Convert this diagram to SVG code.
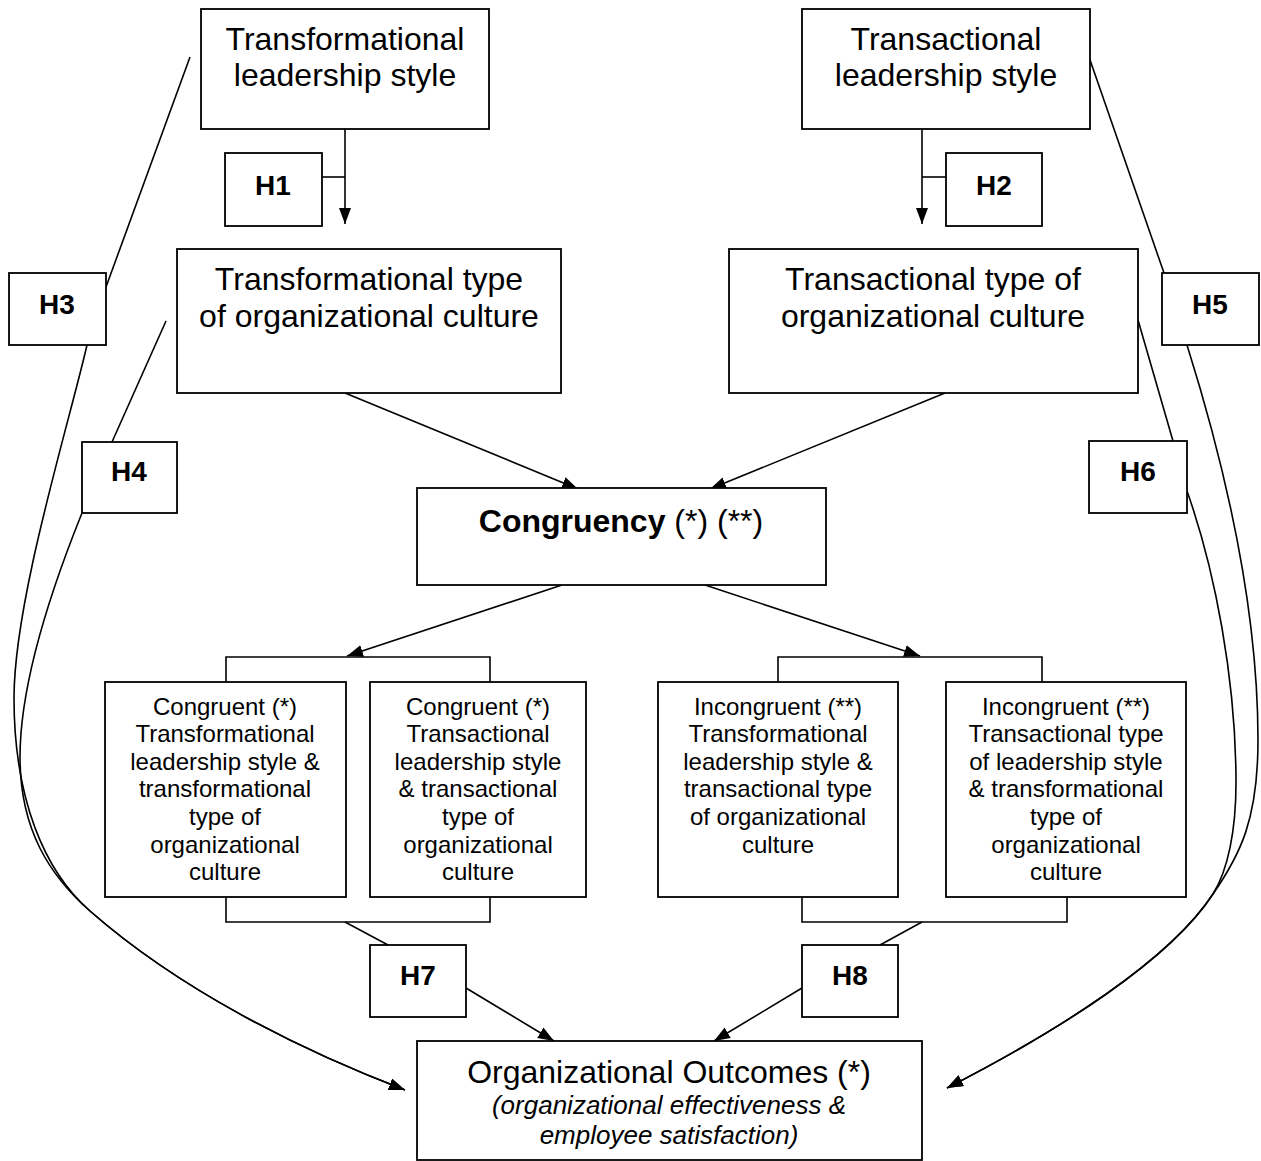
<svg xmlns="http://www.w3.org/2000/svg" width="1261" height="1161" viewBox="0 0 1261 1161">
<style>
.box{fill:#fff;stroke:#000;stroke-width:1.8}
.ln{fill:none;stroke:#000;stroke-width:1.6}
.big{font-family:"Liberation Sans",Arial,sans-serif;font-size:32px;text-anchor:middle;fill:#000}
.sm{font-family:"Liberation Sans",Arial,sans-serif;font-size:24px;text-anchor:middle;fill:#000}
.h{font-family:"Liberation Sans",Arial,sans-serif;font-size:28px;font-weight:bold;text-anchor:middle;fill:#000}
.it{font-family:"Liberation Sans",Arial,sans-serif;font-size:26px;font-style:italic;text-anchor:middle;fill:#000}
</style>
<defs>
<marker id="arr" markerUnits="userSpaceOnUse" markerWidth="17" markerHeight="13" refX="16" refY="6.5" orient="auto">
<path d="M0,0.5 L16,6.5 L0,12.5 z" fill="#000"/>
</marker>
</defs>
<rect width="1261" height="1161" fill="#fff"/>
<g id="connectors">
<line class="ln" x1="345" y1="129" x2="345" y2="224" marker-end="url(#arr)"/>
<line class="ln" x1="322" y1="177" x2="345" y2="177"/>
<line class="ln" x1="922" y1="129" x2="922" y2="224" marker-end="url(#arr)"/>
<line class="ln" x1="922" y1="177" x2="946" y2="177"/>
<line class="ln" x1="345" y1="393" x2="578" y2="489" marker-end="url(#arr)"/>
<line class="ln" x1="945" y1="393" x2="710" y2="489" marker-end="url(#arr)"/>
<line class="ln" x1="562" y1="585" x2="347" y2="656" marker-end="url(#arr)"/>
<line class="ln" x1="705" y1="585" x2="920" y2="656" marker-end="url(#arr)"/>
<polyline class="ln" points="226,682 226,657 490,657 490,682"/>
<polyline class="ln" points="778,682 778,657 1042,657 1042,682"/>
<polyline class="ln" points="226,897 226,922 490,922 490,897"/>
<polyline class="ln" points="802,897 802,922 1067,922 1067,897"/>
<line class="ln" x1="345" y1="922" x2="388" y2="945"/>
<line class="ln" x1="922" y1="922" x2="880" y2="945"/>
<line class="ln" x1="466" y1="988" x2="554" y2="1041" marker-end="url(#arr)"/>
<line class="ln" x1="802" y1="988" x2="714" y2="1041" marker-end="url(#arr)"/>
<line class="ln" x1="106" y1="287" x2="190" y2="57"/>
<path class="ln" d="M87,345 C70,420 14,600 14,698 C14,800 45,872 90,911 C180,990 300,1050 405,1090" marker-end="url(#arr)"/>
<line class="ln" x1="112" y1="442" x2="166" y2="321"/>
<path class="ln" d="M82,513 C55,580 20,680 20,757 C20,830 50,876 90,911 C180,990 300,1050 405,1090" marker-end="url(#arr)"/>
<line class="ln" x1="1089" y1="57" x2="1164" y2="273"/>
<path class="ln" d="M1187,345 C1220,450 1258,600 1258,740 C1258,820 1240,855 1213,894 C1170,960 1060,1030 947,1088" marker-end="url(#arr)"/>
<line class="ln" x1="1138" y1="320" x2="1173" y2="441"/>
<path class="ln" d="M1187,491 C1215,570 1236,680 1236,783 C1236,830 1228,870 1213,894 C1170,960 1060,1030 947,1088" marker-end="url(#arr)"/>
</g>
<g id="n-tl">
<rect class="box" x="201" y="9" width="288" height="120"/>
<text class="big" x="345" y="50">Transformational</text>
<text class="big" x="345" y="86">leadership style</text>
</g>
<g id="n-xl">
<rect class="box" x="802" y="9" width="288" height="120"/>
<text class="big" x="946" y="50">Transactional</text>
<text class="big" x="946" y="86">leadership style</text>
</g>
<g id="n-h1"><rect class="box" x="225" y="153" width="97" height="73"/><text class="h" x="273" y="195">H1</text></g>
<g id="n-h2"><rect class="box" x="946" y="153" width="96" height="73"/><text class="h" x="994" y="195">H2</text></g>
<g id="n-tc">
<rect class="box" x="177" y="249" width="384" height="144"/>
<text class="big" x="369" y="290">Transformational type</text>
<text class="big" x="369" y="327">of organizational culture</text>
</g>
<g id="n-xc">
<rect class="box" x="729" y="249" width="409" height="144"/>
<text class="big" x="933" y="290">Transactional type of</text>
<text class="big" x="933" y="327">organizational culture</text>
</g>
<g id="n-h3"><rect class="box" x="9" y="273" width="97" height="72"/><text class="h" x="57" y="314">H3</text></g>
<g id="n-h4"><rect class="box" x="82" y="442" width="95" height="71"/><text class="h" x="129" y="481">H4</text></g>
<g id="n-h5"><rect class="box" x="1162" y="273" width="97" height="72"/><text class="h" x="1210" y="314">H5</text></g>
<g id="n-h6"><rect class="box" x="1089" y="441" width="98" height="72"/><text class="h" x="1138" y="481">H6</text></g>
<g id="n-cong">
<rect class="box" x="417" y="488" width="409" height="97"/>
<text class="big" x="621" y="532"><tspan font-weight="bold">Congruency</tspan> (*) (**)</text>
</g>
<g id="n-c1">
<rect class="box" x="105" y="682" width="241" height="215"/>
<text class="sm" x="225" y="715">Congruent (*)</text>
<text class="sm" x="225" y="742">Transformational</text>
<text class="sm" x="225" y="770">leadership style &amp;</text>
<text class="sm" x="225" y="797">transformational</text>
<text class="sm" x="225" y="825">type of</text>
<text class="sm" x="225" y="853">organizational</text>
<text class="sm" x="225" y="880">culture</text>
</g>
<g id="n-c2">
<rect class="box" x="370" y="682" width="216" height="215"/>
<text class="sm" x="478" y="715">Congruent (*)</text>
<text class="sm" x="478" y="742">Transactional</text>
<text class="sm" x="478" y="770">leadership style</text>
<text class="sm" x="478" y="797">&amp; transactional</text>
<text class="sm" x="478" y="825">type of</text>
<text class="sm" x="478" y="853">organizational</text>
<text class="sm" x="478" y="880">culture</text>
</g>
<g id="n-i1">
<rect class="box" x="658" y="682" width="240" height="215"/>
<text class="sm" x="778" y="715">Incongruent (**)</text>
<text class="sm" x="778" y="742">Transformational</text>
<text class="sm" x="778" y="770">leadership style &amp;</text>
<text class="sm" x="778" y="797">transactional type</text>
<text class="sm" x="778" y="825">of organizational</text>
<text class="sm" x="778" y="853">culture</text>
</g>
<g id="n-i2">
<rect class="box" x="946" y="682" width="240" height="215"/>
<text class="sm" x="1066" y="715">Incongruent (**)</text>
<text class="sm" x="1066" y="742">Transactional type</text>
<text class="sm" x="1066" y="770">of leadership style</text>
<text class="sm" x="1066" y="797">&amp; transformational</text>
<text class="sm" x="1066" y="825">type of</text>
<text class="sm" x="1066" y="853">organizational</text>
<text class="sm" x="1066" y="880">culture</text>
</g>
<g id="n-h7"><rect class="box" x="370" y="945" width="96" height="72"/><text class="h" x="418" y="985">H7</text></g>
<g id="n-h8"><rect class="box" x="802" y="945" width="96" height="72"/><text class="h" x="850" y="985">H8</text></g>
<g id="n-out">
<rect class="box" x="417" y="1041" width="505" height="119"/>
<text class="big" x="669" y="1083">Organizational Outcomes (*)</text>
<text class="it" x="669" y="1114">(organizational effectiveness &amp;</text>
<text class="it" x="669" y="1144">employee satisfaction)</text>
</g>
</svg>
